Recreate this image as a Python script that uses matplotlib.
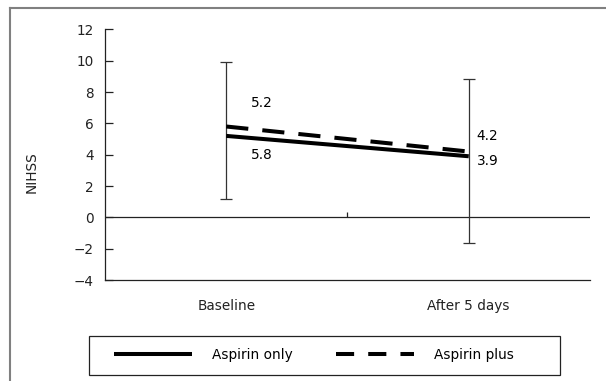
import matplotlib.pyplot as plt
from matplotlib.lines import Line2D
from matplotlib.patches import Rectangle
import numpy as np

categories = ['Baseline', 'After 5 days']
aspirin_only = [5.2, 3.9]
aspirin_plus = [5.8, 4.2]
err_low = [1.15, -1.65]
err_high = [9.95, 8.85]
# labels as printed in the figure
labels_plus = ['5.2', '4.2']
labels_only = ['5.8', '3.9']
yticks = [-4, -2, 0, 2, 4, 6, 8, 10, 12]

plt.rcParams['font.family'] = ['DejaVu Sans']
plt.rcParams['font.size'] = 9.8

W, H = 606, 381
fig = plt.figure(figsize=(W / 100, H / 100), dpi=100)
ax = fig.add_axes([105 / W, 1 - 280 / H, 485 / W, (280 - 29.4) / H])

x = np.arange(len(categories))
lo = np.array(err_low)
hi = np.array(err_high)
ax.errorbar(x, (lo + hi) / 2, yerr=(hi - lo) / 2, fmt='none', ecolor='#333333',
            elinewidth=0.9, capsize=4.2, capthick=0.9, zorder=2)

ax.plot(x, aspirin_only, color='black', lw=2.9, solid_capstyle='butt', zorder=3)
ax.plot(x, aspirin_plus, color='black', lw=2.9, dashes=(5.5, 3.5), zorder=3)

ax.axhline(0, color='#222222', lw=0.9, zorder=1)
ax.vlines(0.5, 0, 0.35, color='#222222', lw=0.9)

ax.annotate(labels_plus[0], (x[0], aspirin_plus[0]), xytext=(36, 24), textcoords='offset pixels',
            ha='center', va='center')
ax.annotate(labels_only[0], (x[0], aspirin_only[0]), xytext=(36, -19), textcoords='offset pixels',
            ha='center', va='center')
ax.annotate(labels_plus[1], (x[1], aspirin_plus[1]), xytext=(8, 16), textcoords='offset pixels',
            ha='left', va='center')
ax.annotate(labels_only[1], (x[1], aspirin_only[1]), xytext=(8, -5), textcoords='offset pixels',
            ha='left', va='center')

ax.set_xlim(-0.5, 1.5)
ax.set_ylim(-4, 12)
ax.set_yticks(yticks)
ax.set_yticklabels([str(t).replace('-', '\u2212') for t in yticks])
ax.set_xticks(x)
ax.set_xticklabels(categories)
ax.tick_params(axis='y', direction='in', length=6, width=0.9, pad=8, colors='#222222')
ax.tick_params(axis='x', length=0, pad=14, colors='#222222')
for s in ['top', 'right']:
    ax.spines[s].set_visible(False)
for s in ['left', 'bottom']:
    ax.spines[s].set_linewidth(0.9)
    ax.spines[s].set_color('#222222')

fig.text(32 / W, 1 - 172 / H, 'NIHSS', rotation=90, ha='center', va='center', color='#222222')

# outer frame (left and top only visible)
fig.add_artist(Line2D([10 / W, 10 / W], [-0.1, 1 - 8 / H], color='#808080', lw=1.5))
fig.add_artist(Line2D([10 / W, 1.1], [1 - 8 / H, 1 - 8 / H], color='#808080', lw=1.5))

# legend box
fig.add_artist(Rectangle((89 / W, 1 - 375 / H), 471 / W, 39 / H, transform=fig.transFigure,
                         fill=False, edgecolor='#222222', lw=0.9))
h1 = Line2D([], [], color='black', lw=2.9, solid_capstyle='butt')
h2 = Line2D([], [], color='black', lw=2.9, dashes=(4.5, 3.5))
leg = fig.legend([h1, h2], ['Aspirin only', 'Aspirin plus'], ncol=2, loc='center left',
                 bbox_to_anchor=(114 / W, 1 - 355 / H), borderaxespad=0, borderpad=0,
                 frameon=False, handlelength=5.7, handletextpad=1.5, columnspacing=3.2)

fig.savefig('out.png', dpi=100)
